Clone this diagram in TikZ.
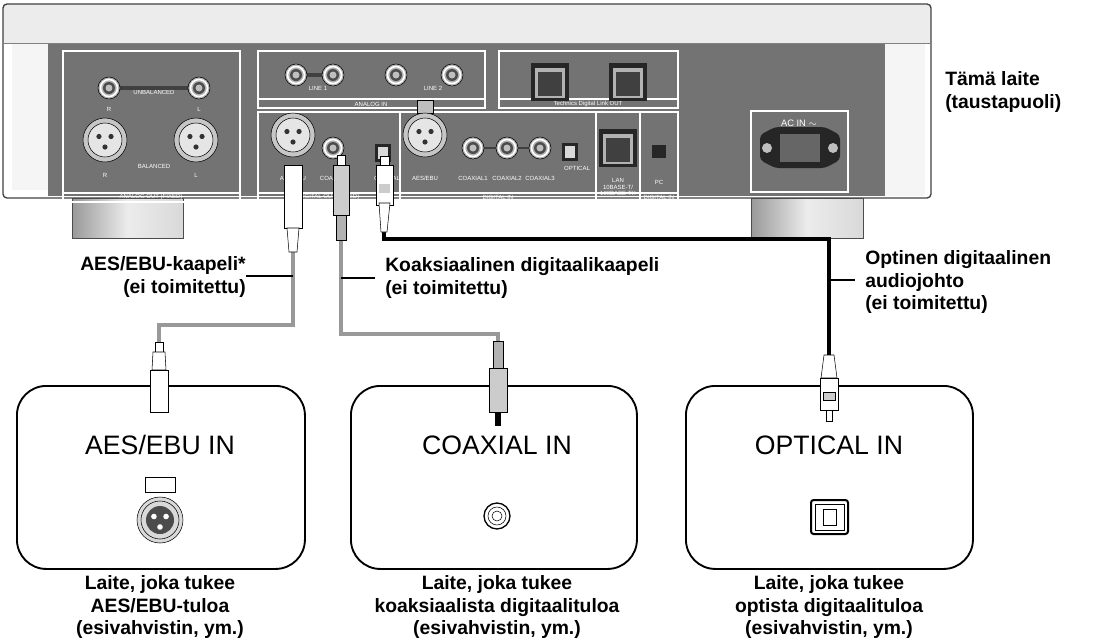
\documentclass[tikz,border=0pt]{standalone}
\usepackage{fontspec}
\setmainfont{Liberation Sans}
\usetikzlibrary{calc}
\begin{document}
\begin{tikzpicture}[x=0.75pt,y=-0.75pt,
  lbl/.style={font=\bfseries\fontsize{14.5}{17}\selectfont,align=left,inner sep=0},
  clbl/.style={font=\bfseries\fontsize{14.5}{17}\selectfont,align=center,inner sep=0},
  ttl/.style={font=\fontsize{20}{24}\selectfont,inner sep=0},
  tiny/.style={font=\fontsize{4.5}{5}\selectfont,text=white,inner sep=0},
  pan/.style={draw=white,line width=0.8pt},
  box/.style={draw=black,line width=1.4pt,rounded corners=22pt,fill=white},
  gcab/.style={draw=gray!80,line width=3.5pt},
  bcab/.style={draw=black,line width=3.5pt},
  ptr/.style={draw=black,line width=0.8pt}]
\useasboundingbox (0,0) rectangle (1103,643);
\def\rca#1{\fill[gray!60,draw=black] (#1) circle (11); \draw[white,line width=1.2pt] (#1) circle (8.5); \fill[black!70] (#1) circle (6); \fill[gray!50] (#1) circle(3.5);}
\def\xlr#1{\fill[gray!45,draw=black] (#1) circle (22); \fill[gray!20,draw=black] (#1) circle (17); \foreach \a in {150,30,270}{\fill[black!80] ($(#1)+(\a:-7)$) circle (2.6);}}
\def\rj#1{\fill[black!85] ($(#1)+(-19,-19)$) rectangle ($(#1)+(19,19)$); \fill[gray!60] ($(#1)+(-15,-14)$) rectangle ($(#1)+(15,16)$); \fill[black!75] ($(#1)+(-12,-10)$) rectangle ($(#1)+(12,14)$);}
\def\opt#1{\fill[black!85] ($(#1)+(-8,-9)$) rectangle ($(#1)+(8,9)$); \fill[gray!30] ($(#1)+(-5,-6)$) rectangle ($(#1)+(5,6)$);}
% device
\fill[white] (3,4) rectangle (931,197);
\fill[black!55] (48,43) rectangle (885,196);
\fill[gray!15] (3,4) rectangle (931,43);
\fill[gray!8] (12,43) rectangle (48,190);
\fill[gray!8] (885,43) rectangle (925,196);
\draw[black!75,line width=1pt,rounded corners=3pt] (3,4) rectangle (931,198);
\draw[black!50] (3,43) -- (931,43);
\foreach \xa/\xb in {72/183,751/863}{
  \shade[top color=gray!80,bottom color=gray!30,middle color=gray!15,shading angle=90] (\xa,198) rectangle (\xb,238);
  \draw[black!70] (\xa,198) rectangle (\xb,238);}
% panels
\draw[pan] (63,51) rectangle (240,202); \draw[pan] (63,193) -- (240,193);
\draw[pan] (258,51) rectangle (485,108); \draw[pan] (258,99) -- (485,99);
\draw[pan] (499,51) rectangle (678,108); \draw[pan] (499,99) -- (678,99);
\draw[pan] (258,112) rectangle (678,202); \draw[pan] (258,193) -- (678,193);
\draw[pan] (400,112) -- (400,202); \draw[pan] (596,112) -- (596,202); \draw[pan] (640,112) -- (640,202);
\draw[pan] (751,111) rectangle (848,192);
\node[tiny] at (151,197) {ANALOG OUT (FIXED)};
\node[tiny] at (371,104) {ANALOG IN};
\node[tiny] at (588,104) {Technics Digital Link OUT};
\node[tiny] at (329,197) {DIGITAL OUT (FIXED)};
\node[tiny] at (498,197) {DIGITAL IN};
\node[tiny] at (659,197) {DIGITAL IN};
\node[tiny,align=center] at (618,187) {LAN\\10BASE-T/\\100BASE-TX};
\node[tiny] at (659,182) {PC};
\node[tiny,font=\fontsize{7}{8}\selectfont] at (799,123) {AC IN $\sim$};
\node[tiny] at (154,92) {UNBALANCED}; \node[tiny] at (154,166) {BALANCED};
\node[tiny] at (318,88) {LINE 1}; \node[tiny] at (433,88) {LINE 2};
\node[tiny] at (293,178) {AES/EBU}; \node[tiny] at (333,178) {COAXIAL}; \node[tiny] at (387,178) {OPTICAL};
\node[tiny] at (425,178) {AES/EBU};
\node[tiny] at (473,178) {COAXIAL1}; \node[tiny] at (507,178) {COAXIAL2}; \node[tiny] at (540,178) {COAXIAL3};
\node[tiny] at (577,168) {OPTICAL};
\node[tiny] at (109,109) {R}; \node[tiny] at (199,109) {L};
\node[tiny] at (105,175) {R}; \node[tiny] at (196,175) {L};
\draw[black!75,line width=3pt] (109,88) -- (199,88);
\draw[black!75,line width=3pt] (296,75) -- (333,75);
\draw[black!75,line width=2pt] (473,148) -- (540,148);
\rca{109,88} \rca{199,88}
\rca{296,75} \rca{333,75} \rca{396,75} \rca{452,75}
\xlr{105,140} \xlr{196,140} \xlr{293,135}
\rca{333,148} \opt{383,153}
\fill[gray!50,draw=black] (417,100) rectangle (433,113);
\xlr{425,135}
\rca{473,148} \rca{507,148} \rca{540,148}
\opt{570,152}
\rj{550,82} \rj{628,82} \rj{618,148}
\fill[black!85] (652,145) rectangle (666,158);
\fill[black!85,rounded corners=3pt] (760,135) -- (775,127) -- (825,127) -- (840,135) -- (840,160) -- (825,168) -- (775,168) -- (760,160) -- cycle;
\fill[black!60] (780,134) rectangle (820,162);
\fill[gray!50] (767,148) circle (5); \fill[gray!50] (833,148) circle (5);
\node[lbl] (dev) at (945,92) [anchor=west] {Tämä laite\\(taustapuoli)};
% boxes
\node[box,minimum width=288*0.75pt,minimum height=183*0.75pt,anchor=north west] (b1) at (16,385) {};
\node[box,minimum width=286*0.75pt,minimum height=183*0.75pt,anchor=north west] (b2) at (350,385) {};
\node[box,minimum width=287*0.75pt,minimum height=183*0.75pt,anchor=north west] (b3) at (685,385) {};
\node[ttl] (t1) at (160,445) {AES/EBU IN};
\node[ttl] (t2) at (497,445) {COAXIAL IN};
\node[ttl] (t3) at (829,445) {OPTICAL IN};
% icons
\fill[white,draw=black] (145,477) rectangle (175,492);
\fill[gray!30,draw=black] (160,520) circle (23); \draw (160,520) circle(19);
\fill[black!70] (160,520) circle (14);
\foreach \a in {150,30,270}{\fill[white] ($(160,520)+(\a:-7)$) circle (2.8);}
\draw[line width=1pt] (497,516) circle (13); \draw (497,516) circle (9); \draw (497,516) circle(5);
\draw[line width=1.5pt,rounded corners=2pt] (811,500) rectangle (848,534);
\draw (815,504) rectangle (844,530);
\draw (823,509) rectangle (836,525);
% cables
\coordinate (a0) at (293,250); \coordinate (a1) at (293,325); \coordinate (a2) at (159,325); \coordinate (a3) at (159,342);
\coordinate (c0) at (341,235); \coordinate (c1) at (341,334); \coordinate (c2) at (498,334); \coordinate (c3) at (498,341);
\coordinate (o0) at (384,232); \coordinate (o1) at (384,239); \coordinate (o2) at (829,239); \coordinate (o3) at (829,355);
\draw[gcab] (a0) -- (a1) -- (a2) -- (a3);
\draw[gcab] (c0) -- (c1) -- (c2) -- (c3);
\draw[bcab] (o0) -- (o1) -- (o2) -- (o3);
% plugs at device
\fill[white,draw=black] (284,165) rectangle (302,228); \fill[white,draw=black] (287,228) -- (299,228) -- (297,252) -- (289,252) -- cycle;
\fill[gray!40,draw=black] (333,165) rectangle (349,215); \fill[white,draw=black] (337,155) rectangle (345,165);
\fill[gray!60,draw=black] (336,215) rectangle (346,240);
\fill[white,draw=black] (376,165) rectangle (393,205); \fill[white,draw=black] (380,156) rectangle (389,165);
\fill[white,draw=black] (379,203) -- (390,203) -- (387,232) -- (381,232) -- cycle;
\fill[gray!40] (379,184) rectangle (390,193);
% plugs at boxes
\fill[white,draw=black] (155,342) rectangle (163,352); \fill[white,draw=black] (153,352) -- (165,352) -- (166,370) -- (152,370) -- cycle;
\fill[white,draw=black] (150,370) rectangle (168,412);
\fill[gray!60,draw=black] (493,341) rectangle (503,368); \fill[gray!40,draw=black] (489,368) rectangle (507,412);
\fill[black,draw=black] (495,412) rectangle (500,425);
\fill[white,draw=black] (824,355) -- (834,355) -- (837,378) -- (821,378) -- cycle;
\fill[white,draw=black] (820,378) rectangle (838,410); \fill[gray!40,draw=black] (823,392) rectangle (835,400);
\fill[white,draw=black] (826,410) rectangle (832,421);
% labels
\node[lbl,align=right,anchor=east] (la) at (246,277) {AES/EBU-kaapeli*\\(ei toimitettu)};
\draw[ptr] (la.east|-0,276) -- (293,276);
\node[lbl,anchor=west] (lc) at (385,278) {Koaksiaalinen digitaalikaapeli\\(ei toimitettu)};
\draw[ptr] (341,278) -- (375,278);
\node[lbl,anchor=west] (lo) at (865,282) {Optinen digitaalinen\\audiojohto\\(ei toimitettu)};
\draw[ptr] (829,280) -- (855,280);
\node[clbl] (d1) at (160,607) {Laite, joka tukee\\AES/EBU-tuloa\\(esivahvistin, ym.)};
\node[clbl] (d2) at (497,607) {Laite, joka tukee\\koaksiaalista digitaalituloa\\(esivahvistin, ym.)};
\node[clbl] (d3) at (829,607) {Laite, joka tukee\\optista digitaalituloa\\(esivahvistin, ym.)};
\end{tikzpicture}
\end{document}
